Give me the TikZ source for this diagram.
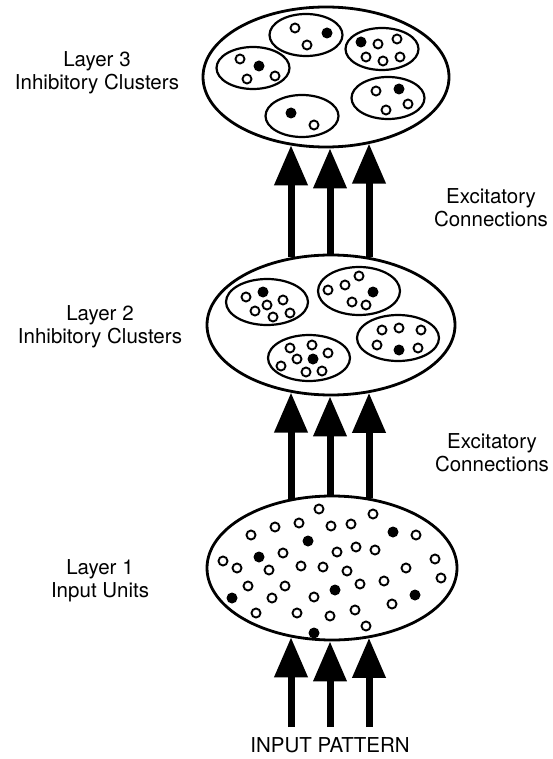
\documentclass[tikz,border=0pt]{standalone}
\usepackage{fontspec}
\setmainfont{TeX Gyre Heros}
\usetikzlibrary{arrows.meta,shapes.geometric}

\begin{document}
\begin{tikzpicture}[
          x=1pt, y=-1pt,
          layer/.style={ellipse, draw, line width=2.8pt, inner sep=0pt},
          cluster/.style={ellipse, draw, line width=2.2pt, inner sep=0pt, minimum width=73pt, minimum height=42pt},
          bigcluster/.style={cluster, minimum width=82pt, minimum height=46pt},
          unit/.style={draw, line width=1.9pt, fill=white},
          winner/.style={fill=black},
          label/.style={font=\fontsize{20.5}{23}\selectfont, align=center},
          excite/.style={line width=7pt, -{Triangle[width=32pt,length=40pt]}}
        ]
          \useasboundingbox (0,0) rectangle (552,759);

          % layers
          \node[layer, minimum width=246pt, minimum height=140pt] (layer3) at (326,77) {};
          \node[layer, minimum width=248pt, minimum height=140pt] (layer2) at (331,325) {};
          \node[layer, minimum width=250pt, minimum height=144pt] (layer1) at (332,568) {};

          % layer 3 clusters
          \node[cluster] (c3a) at (306,35) {};
          \node[cluster] (c3b) at (253,68) {};
          \node[cluster] (c3c) at (382,49) {};
          \node[cluster] (c3d) at (388,98) {};
          \node[cluster] (c3e) at (302,116) {};
          \foreach \p in {(295,28),(307,45),(240,59),(247,79),(275,76),(378,44),(397,39),(366,57),(383,61),(400,57),(376,91),(386,110),(408,104),(314,125)}
            \draw[unit] \p circle[radius=4.5pt];
          \foreach \p in {(327,33),(259,66),(361,42),(399,89),(291,113)}
            \fill[winner] \p circle[radius=5.5pt];

          % layer 2 clusters
          \node[bigcluster] (c2a) at (267,302) {};
          \node[bigcluster, minimum height=48pt] (c2b) at (359,291) {};
          \node[bigcluster] (c2c) at (398,338) {};
          \node[bigcluster] (c2d) at (309,358) {};
          \foreach \p in {(246,297),(283,300),(267,305),(255,311),(273,317),(290,313),
                          (328,290),(345,285),(359,276),(352,302),(366,305),
                          (382,330),(399,328),(421,330),(377,345),(418,348),
                          (290,348),(312,345),(328,353),(297,359),(281,366),(306,372),(322,371)}
            \draw[unit] \p circle[radius=4.5pt];
          \foreach \p in {(263,292),(373,292),(399,350),(313,359)}
            \fill[winner] \p circle[radius=5.5pt];

          % layer 1 input units
          \foreach \p in {(319,509),(373,514),(275,527),(299,523),(331,526),(351,524),(251,535),(416,535),
                          (283,553),(337,552),(356,547),(375,550),(223,561),(237,568),(269,570),(301,566),
                          (323,567),(347,571),(406,568),(435,559),(441,578),(248,586),(285,586),(360,584),
                          (384,581),(272,598),(314,597),(392,604),(256,613),(297,613),(330,616),(355,610),(366,626)}
            \draw[unit] \p circle[radius=4.5pt];
          \foreach \p in {(308,541),(393,532),(259,557),(335,590),(232,598),(415,595),(314,633)}
            \fill[winner] \p circle[radius=5.5pt];

          % connections
          \coordinate (src1) at (291,727);
          \coordinate (src2) at (330,727);
          \coordinate (src3) at (369,727);
          \draw[excite] (src1) -- (src1 |- layer1.239);
          \draw[excite] (src2) -- (src2 |- layer1.270);
          \draw[excite] (src3) -- (src3 |- layer1.299);
          \draw[excite] (src1 |- layer1.121) -- (src1 |- layer2.239);
          \draw[excite] (src2 |- layer1.90) -- (src2 |- layer2.270);
          \draw[excite] (src3 |- layer1.61) -- (src3 |- layer2.300);
          \draw[excite] (src1 |- layer2.121) -- (src1 |- layer3.242);
          \draw[excite] (src2 |- layer2.90) -- (src2 |- layer3.272);
          \draw[excite] (src3 |- layer2.60) -- (src3 |- layer3.304);

          % labels
          \node[label] (lab3) at (97,73) {Layer 3\\Inhibitory Clusters};
          \node[label] (lab2) at (100,327) {Layer 2\\Inhibitory Clusters};
          \node[label] (lab1) at (100,581) {Layer 1\\Input Units};
          \node[label] (exc2) at (491,208) {Excitatory\\Connections};
          \node[label] (exc1) at (492,453) {Excitatory\\Connections};
          \node[label] (input) at (330,745) {INPUT PATTERN};
        \end{tikzpicture}
\end{document}
